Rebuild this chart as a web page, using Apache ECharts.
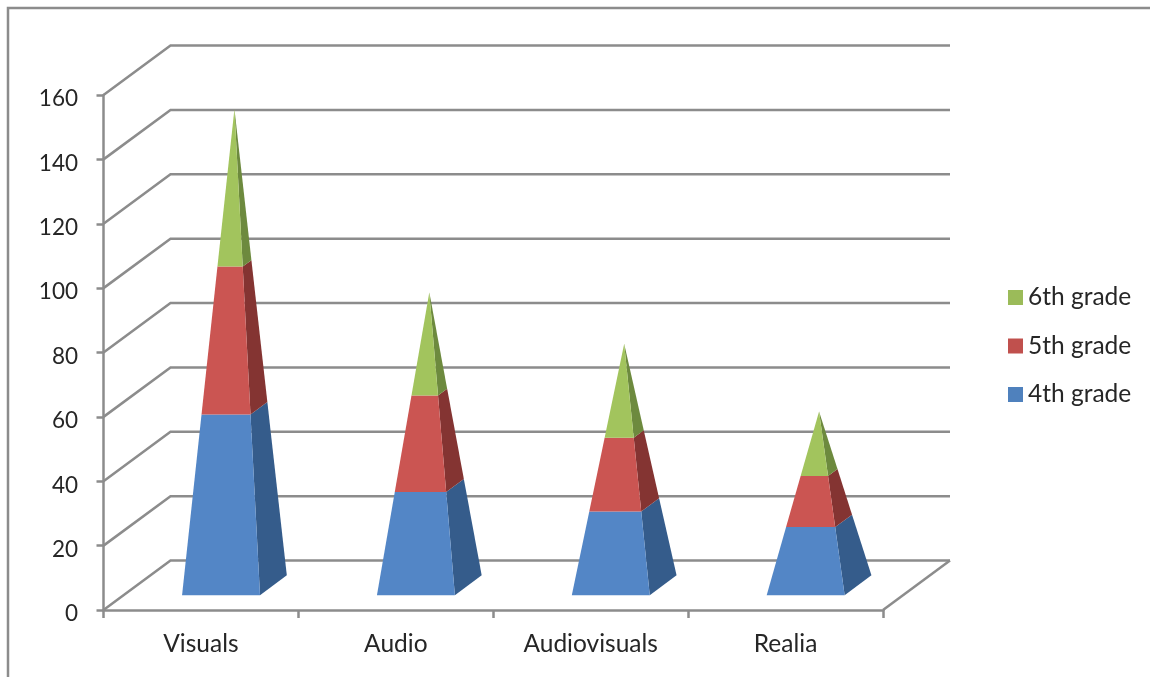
<!DOCTYPE html>
<html>
<head>
<meta charset="utf-8">
<title>Teaching materials by grade</title>
<style>html,body{margin:0;padding:0;background:#fff}#chart{width:1150px;height:677px}</style>
<script src="https://cdn.jsdelivr.net/npm/echarts@6/dist/echarts.min.js"></script>
</head>
<body>
<div id="chart"></div>
<script>
const categories = ['Visuals', 'Audio', 'Audiovisuals', 'Realia'];
const grade4 = [55, 31, 25, 20];
const grade5 = [45, 29, 22, 15];
const grade6 = [48, 31, 28, 19];
const valueTicks = [0, 20, 40, 60, 80, 100, 120, 140, 160];

const GRID_COLOR = '#8c8c8c';
const GRID_WIDTH = 2.5;
const TEXT_COLOR = '#262626';
const FONT = 'Lato, "Open Sans", sans-serif';

// Oblique projection: how far the back wall sits from the front plane, in pixels.
const DEPTH_X = 67;
const DEPTH_Y = -49.5;
// A pyramid's base takes up the middle 40% of the floor depth.
const BASE_DEPTH = 0.4;
const BAR_RATIO = 0.4;

const totals = categories.map((_, i) => grade4[i] + grade5[i] + grade6[i]);

// Walls and floor: one polyline per value tick, plus the right edge of the floor.
function renderWall(params, api) {
  const v = api.value(0);
  const slot = api.size([1, 0])[0];
  const center = api.coord([0, v]);
  const leftX = center[0] - slot / 2;
  const right = leftX + slot * categories.length;
  const y = center[1];
  const children = [{
    type: 'polyline',
    shape: { points: [[leftX, y], [leftX + DEPTH_X, y + DEPTH_Y], [right + DEPTH_X, y + DEPTH_Y]] },
    style: { fill: null, stroke: GRID_COLOR, lineWidth: GRID_WIDTH }
  }];
  if (v === 0) {
    children.push({
      type: 'line',
      shape: { x1: right, y1: y, x2: right + DEPTH_X, y2: y + DEPTH_Y },
      style: { stroke: GRID_COLOR, lineWidth: GRID_WIDTH }
    });
  }
  return { type: 'group', children };
}

// One stacked slice of a pyramid: a front face and a darker right face.
function pyramidSlice(lowerValues, front, side) {
  return function (params, api) {
    const i = api.value(0);
    const value = api.value(1);
    const lower = lowerValues[i];
    const total = totals[i];
    const slot = api.size([1, 0])[0];
    const halfW = slot * BAR_RATIO / 2;
    const halfDx = DEPTH_X * BASE_DEPTH / 2;
    const halfDy = DEPTH_Y * BASE_DEPTH / 2;

    const corner = function (h, sx, sd) {
      const p = api.coord([i, h]);
      const k = 1 - h / total;
      return [
        p[0] + DEPTH_X / 2 + k * (sx * halfW + sd * halfDx),
        p[1] + DEPTH_Y / 2 + k * sd * halfDy
      ];
    };
    const top = lower + value;
    const faces = [
      { pts: [corner(lower, 1, -1), corner(lower, 1, 1), corner(top, 1, 1), corner(top, 1, -1)], color: side },
      { pts: [corner(lower, -1, -1), corner(lower, 1, -1), corner(top, 1, -1), corner(top, -1, -1)], color: front }
    ];
    return {
      type: 'group',
      children: faces.map(f => ({
        type: 'polygon',
        shape: { points: f.pts },
        style: { fill: f.color, stroke: null }
      }))
    };
  };
}

function sliceSeries(name, values, lowerValues, legendColor, front, side, z) {
  return {
    type: 'custom',
    name,
    z,
    silent: true,
    itemStyle: { color: legendColor },
    renderItem: pyramidSlice(lowerValues, front, side),
    encode: { x: 0, y: 1 },
    data: values.map((v, i) => [i, v])
  };
}

const lower5 = grade4;
const lower6 = grade4.map((v, i) => v + grade5[i]);
const zeros = grade4.map(() => 0);

const chart = echarts.init(document.getElementById('chart'), null, { renderer: 'canvas' });
chart.setOption({
  animation: false,
  backgroundColor: '#ffffff',
  grid: { left: 103.5, top: 95, width: 779.5, height: 515, containLabel: false },
  graphic: [{
    type: 'polyline',
    silent: true,
    z: 0,
    shape: { points: [[8, 680], [8, 8], [1154, 8]] },
    style: { fill: null, stroke: '#8c8c8c', lineWidth: 2.5 }
  }],
  legend: {
    orient: 'vertical',
    left: 1003,
    top: 280,
    icon: 'rect',
    itemWidth: 15,
    itemHeight: 15,
    itemGap: 23.5,
    textStyle: { fontFamily: FONT, fontSize: 24.5, color: TEXT_COLOR },
    data: ['6th grade', '5th grade', '4th grade']
  },
  xAxis: {
    type: 'category',
    data: categories,
    boundaryGap: true,
    axisLine: { show: true, lineStyle: { color: GRID_COLOR, width: GRID_WIDTH } },
    axisTick: { show: true, alignWithLabel: false, length: 8, lineStyle: { color: GRID_COLOR, width: GRID_WIDTH } },
    axisLabel: { fontFamily: FONT, fontSize: 24.5, color: TEXT_COLOR, margin: 22, interval: 0 },
    splitLine: { show: false }
  },
  yAxis: {
    type: 'value',
    min: valueTicks[0],
    max: valueTicks[valueTicks.length - 1],
    interval: valueTicks[1] - valueTicks[0],
    axisLine: { show: true, lineStyle: { color: GRID_COLOR, width: GRID_WIDTH } },
    axisTick: { show: true, length: 7, lineStyle: { color: GRID_COLOR, width: GRID_WIDTH } },
    axisLabel: { fontFamily: FONT, fontSize: 22.5, color: TEXT_COLOR, margin: 25.5, verticalAlign: 'top', lineHeight: 8 },
    splitLine: { show: false }
  },
  series: [
    {
      type: 'custom',
      silent: true,
      z: 1,
      renderItem: renderWall,
      encode: { y: 0 },
      data: valueTicks.map(v => [v])
    },
    sliceSeries('4th grade', grade4, zeros, '#4f81bd', '#5386c6', '#355c8b', 3),
    sliceSeries('5th grade', grade5, lower5, '#c0504d', '#cb5552', '#843432', 4),
    sliceSeries('6th grade', grade6, lower6, '#9bbb59', '#a2c45d', '#6d8a3e', 5)
  ]
});
</script>
</body>
</html>
